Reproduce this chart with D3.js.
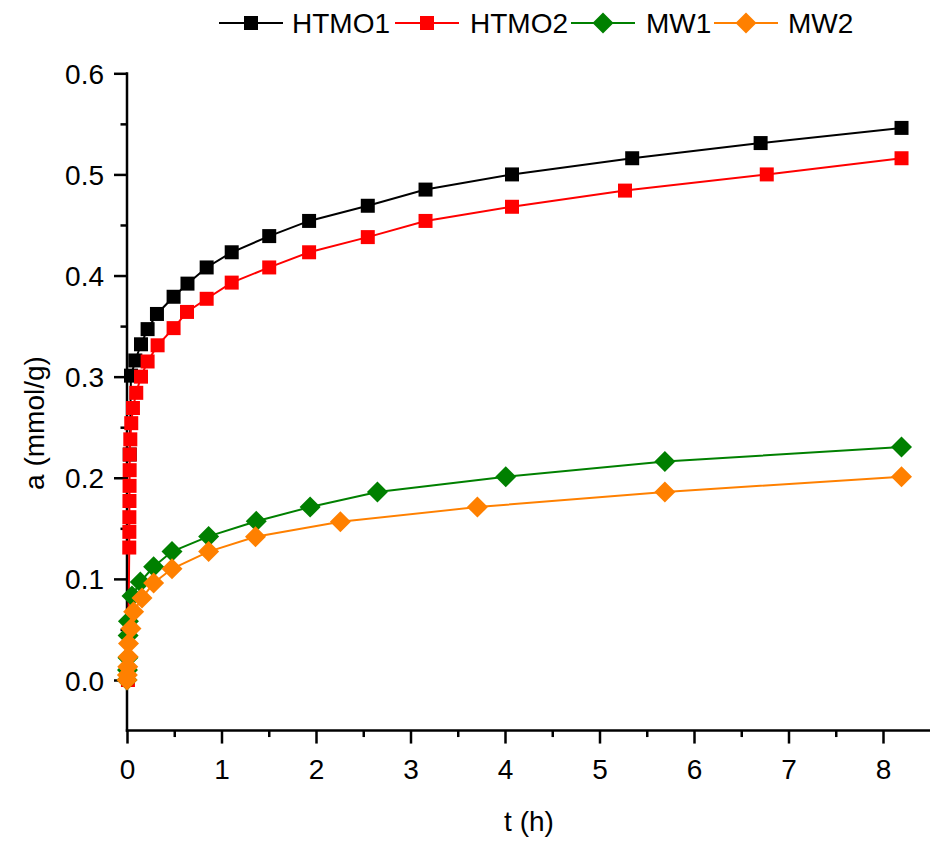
<!DOCTYPE html>
<html>
<head>
<meta charset="utf-8">
<script src="https://cdn.jsdelivr.net/npm/d3@7"></script>
<style>
  html, body { margin: 0; padding: 0; background: #fff; }
  svg { display: block; }
  text { font-family: Arial, "Liberation Sans", sans-serif; }
</style>
</head>
<body>
<svg id="chart" width="930" height="848"></svg>
<script>
// ---- data ----
const seriesNames = ["HTMO1", "HTMO2", "MW1", "MW2"];
const seriesColors = ["#000000", "#ff0000", "#008000", "#ff8000"];
const seriesShapes = ["square", "square", "diamond", "diamond"];

const htmo1T = [0.029, 0.042, 0.088, 0.148, 0.218, 0.317, 0.493, 0.64, 0.843, 1.108, 1.505, 1.927, 2.548, 3.159, 4.074, 5.346, 6.705, 8.196];
const htmo1A = [0.223, 0.301, 0.316, 0.332, 0.347, 0.362, 0.379, 0.392, 0.408, 0.423, 0.439, 0.454, 0.469, 0.485, 0.500, 0.516, 0.531, 0.546];

const htmo2T = [0.01, 0.024, 0.025, 0.025, 0.026, 0.027, 0.028, 0.029, 0.035, 0.045, 0.063, 0.098, 0.148, 0.218, 0.324, 0.493, 0.635, 0.843, 1.108, 1.505, 1.927, 2.548, 3.159, 4.074, 5.27, 6.77, 8.196];
const htmo2A = [0.0, 0.131, 0.1465, 0.161, 0.177, 0.192, 0.2075, 0.223, 0.238, 0.254, 0.269, 0.284, 0.300, 0.315, 0.331, 0.348, 0.364, 0.377, 0.393, 0.408, 0.423, 0.438, 0.454, 0.468, 0.484, 0.500, 0.516];

const mw1T = [0, 0.005, 0.01, 0.012, 0.015, 0.053, 0.141, 0.282, 0.476, 0.864, 1.368, 1.938, 2.65, 4.008, 5.692, 8.196];
const mw1A = [0, 0.010, 0.022, 0.044, 0.058, 0.083, 0.097, 0.112, 0.127, 0.142, 0.157, 0.171, 0.186, 0.201, 0.216, 0.2305];

const mw2T = [0, 0.004, 0.008, 0.012, 0.016, 0.042, 0.07, 0.159, 0.282, 0.476, 0.864, 1.36, 2.258, 3.708, 5.692, 8.196];
const mw2A = [0, 0.005, 0.013, 0.023, 0.036, 0.051, 0.0675, 0.081, 0.096, 0.110, 0.127, 0.1416, 0.1564, 0.171, 0.186, 0.201];

const xMajorTicks = [0, 1, 2, 3, 4, 5, 6, 7, 8];
const xMinorTicks = [0.5, 1.5, 2.5, 3.5, 4.5, 5.5, 6.5, 7.5];
const yMajorTicks = [0.0, 0.1, 0.2, 0.3, 0.4, 0.5, 0.6];
const yMinorTicks = [0.05, 0.15, 0.25, 0.35, 0.45, 0.55];
const xTitle = "t (h)";
const yTitle = "a (mmol/g)";

// ---- layout ----
const svg = d3.select("#chart");
const plotLeft = 127, plotRight = 930.25, plotTop = 73.3, zeroY = 680;
const x = d3.scaleLinear().domain([0, 8.5]).range([plotLeft, plotRight]);
const y = d3.scaleLinear().domain([0, 0.6]).range([zeroY, plotTop]);
const plotBottom = y(-0.05);
const FS = 28;

// axes
const xAxisG = svg.append("g").attr("transform", `translate(0,${plotBottom})`);
xAxisG.call(d3.axisBottom(x).tickValues(xMinorTicks).tickSize(6.5).tickFormat(""));
xAxisG.select(".domain").remove();
const xAxisMaj = svg.append("g").attr("transform", `translate(0,${plotBottom})`);
xAxisMaj.call(d3.axisBottom(x).tickValues(xMajorTicks).tickSize(13).tickSizeOuter(0).tickFormat(d3.format("d")));
xAxisMaj.select(".domain").remove();
xAxisMaj.selectAll("text").attr("y", 48).attr("dy", 0).attr("font-size", FS).attr("fill", "#000");

const yAxisG = svg.append("g").attr("transform", `translate(${plotLeft},0)`);
yAxisG.call(d3.axisLeft(y).tickValues(yMinorTicks).tickSize(6.5).tickFormat(""));
yAxisG.select(".domain").remove();
const yAxisMaj = svg.append("g").attr("transform", `translate(${plotLeft},0)`);
yAxisMaj.call(d3.axisLeft(y).tickValues(yMajorTicks).tickSize(13).tickSizeOuter(0).tickFormat(d3.format(".1f")));
yAxisMaj.select(".domain").remove();
yAxisMaj.selectAll("text").attr("x", -23).attr("dy", "0.36em").attr("font-size", FS).attr("fill", "#000");

svg.selectAll(".tick line").attr("stroke", "#000").attr("stroke-width", 2.5);

// axis lines
svg.append("line").attr("x1", plotLeft).attr("x2", plotLeft).attr("y1", plotTop - 1).attr("y2", plotBottom + 1.2)
  .attr("stroke", "#000").attr("stroke-width", 2.5);
svg.append("line").attr("x1", plotLeft - 1.2).attr("x2", plotRight).attr("y1", plotBottom).attr("y2", plotBottom)
  .attr("stroke", "#000").attr("stroke-width", 2.5);

// titles
svg.append("text").attr("x", 529).attr("y", 831).attr("text-anchor", "middle")
  .attr("font-size", FS).text(xTitle);
svg.append("text").attr("transform", `translate(44,423) rotate(-90)`).attr("text-anchor", "middle")
  .attr("font-size", FS).text(yTitle);

// series
const seriesT = [htmo1T, htmo2T, mw1T, mw2T];
const seriesA = [htmo1A, htmo2A, mw1A, mw2A];
const sqSym = d3.symbol().type(d3.symbolSquare).size(14 * 14);
const diaPath = "M0,-10.5L10.5,0L0,10.5L-10.5,0Z";
function marker(g, shape, color, px, py) {
  const d = shape === "square" ? sqSym() : diaPath;
  g.append("path").attr("d", d).attr("transform", `translate(${px},${py})`).attr("fill", color);
}
const line = d3.line().x(d => x(d[0])).y(d => y(d[1]));
seriesNames.forEach((name, i) => {
  const pts = seriesT[i].map((t, j) => [t, seriesA[i][j]]);
  const g = svg.append("g");
  g.append("path").datum(pts).attr("d", line).attr("fill", "none")
    .attr("stroke", seriesColors[i]).attr("stroke-width", 2);
  pts.forEach(p => marker(g, seriesShapes[i], seriesColors[i], x(p[0]), y(p[1])));
});

// legend
const legendLineX = [219, 395, 571, 714];
const legendTextX = [292, 470, 646, 788];
const ly = 23;
seriesNames.forEach((name, i) => {
  const g = svg.append("g");
  g.append("line").attr("x1", legendLineX[i]).attr("x2", legendLineX[i] + 64)
    .attr("y1", ly).attr("y2", ly).attr("stroke", seriesColors[i]).attr("stroke-width", 2);
  marker(g, seriesShapes[i], seriesColors[i], legendLineX[i] + 32, ly);
  g.append("text").attr("x", legendTextX[i]).attr("y", 33.3).attr("font-size", FS).text(name);
});
</script>
</body>
</html>
